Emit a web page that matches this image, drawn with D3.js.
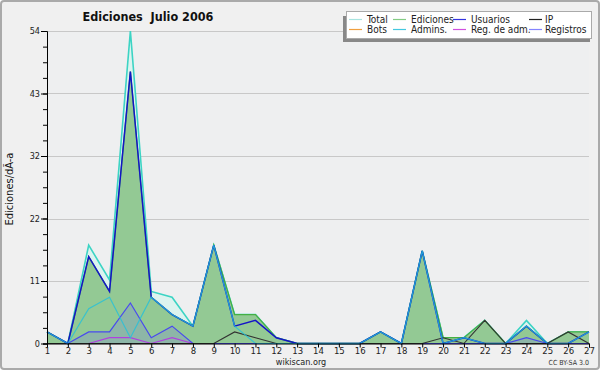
<!DOCTYPE html>
<html>
<head>
<meta charset="utf-8">
<script src="https://cdn.jsdelivr.net/npm/d3@7"></script>
<style>
  body { margin: 0; background: #fff; }
  svg { display: block; font-family: "DejaVu Sans Condensed", "DejaVu Sans", sans-serif; }
</style>
</head>
<body>
<svg id="chart" width="600" height="370"></svg>
<script>
const days = d3.range(1, 28);
const total     = [2,0,17,11,54,9,8,3,17,5,5,1,0,0,0,0,2,0,16,1,1,4,0,4,0,2,2];
const ediciones = [2,0,15,9,47,8,5,3,17,5,5,1,0,0,0,0,2,0,16,1,1,4,0,3,0,2,2];
const usuarios  = [2,0,15,9,47,8,5,3,17,3,4,1,0,0,0,0,2,0,16,0,1,0,0,3,0,0,2];
const ip        = [0,0,0,0,0,0,0,0,0,2,1,0,0,0,0,0,0,0,0,1,0,4,0,0,0,2,0];
const bots      = [0,0,0,0,0,0,0,0,0,0,0,0,0,0,0,0,0,0,0,0,0,0,0,0,0,0,0];
const admins    = [2,0,6,8,1,8,5,3,17,3,0,0,0,0,0,0,2,0,16,0,1,0,0,3,0,0,2];
const regAdm    = [0,0,0,1,1,0,1,0,0,0,0,0,0,0,0,0,0,0,0,0,0,0,0,0,0,0,0];
const registros = [0,0,2,2,7,1,3,0,0,0,0,0,0,0,0,0,0,0,0,0,0,0,0,1,0,0,0];

const legendItems = [
    ["Total", "#a8e4e0"], ["Ediciones", "#84cc84"], ["Usuarios", "#3434e0"], ["IP", "#222"],
    ["Bots", "#f0a040"], ["Admins.", "#44c8e0"], ["Reg. de adm.", "#d050e0"], ["Registros", "#8484ff"]
];

const svg = d3.select("#chart");
const plotLeft = 47, plotRight = 589, plotTop = 31, plotBottom = 343.5;

// fondo y borde
svg.append("rect").attr("x", 1).attr("y", 1).attr("width", 598).attr("height", 368)
    .attr("rx", 3).attr("fill", "#f0f0f0").attr("stroke", "#aaa").attr("stroke-width", 2);
svg.append("rect").attr("x", plotLeft).attr("y", plotTop).attr("width", plotRight - plotLeft).attr("height", plotBottom - plotTop)
    .attr("fill", "#eeeff0");

const x = d3.scaleLinear().domain([1, 27]).range([plotLeft, plotRight]);
const y = d3.scaleLinear().domain([0, 54]).range([plotBottom, plotTop]);

const minorTicks = d3.range(0, 21).map(i => i * 2.7);
const majorTicks = d3.range(0, 6).map(i => i * 10.8);

// rejilla
svg.append("g").selectAll("line").data(majorTicks.slice(1)).enter().append("line")
    .attr("x1", plotLeft).attr("x2", plotRight)
    .attr("y1", d => Math.round(y(d)) + 0.5).attr("y2", d => Math.round(y(d)) + 0.5)
    .attr("stroke", "#c8c8c8");

const area = d3.area().x((d, i) => x(days[i])).y0(y(0)).y1(d => y(d));
const line = d3.line().x((d, i) => x(days[i])).y(d => y(d));

svg.append("path").attr("d", area(total)).attr("fill", "#dcf3ef");
svg.append("path").attr("d", line(total)).attr("fill", "none").attr("stroke", "#3cd4c4").attr("stroke-width", 1.6);
svg.append("path").attr("d", area(ediciones)).attr("fill", "#93c994");
svg.append("path").attr("d", line(ediciones)).attr("fill", "none").attr("stroke", "#44b044").attr("stroke-width", 1.3);
svg.append("path").attr("d", area(registros)).attr("fill", "#7a80e0").attr("opacity", 0.25);

const lines = [
    [bots, "#f0a040", 1],
    [regAdm, "#b040e0", 1.2],
    [registros, "#4848f0", 1.2],
    [ip, "#333", 1.1],
    [usuarios, "#1414c8", 1.5],
    [admins, "#22c0dc", 1.2]
];
lines.forEach(([vals, col, w]) => {
    svg.append("path").attr("d", line(vals)).attr("fill", "none")
        .attr("stroke", col).attr("stroke-width", w).attr("opacity", col === "#22c0dc" ? 0.8 : 1);
});

// ejes
const axisY = svg.append("g").attr("transform", `translate(${plotLeft},0)`)
    .call(d3.axisLeft(y).tickValues(minorTicks).tickSize(4).tickFormat(""));
axisY.select(".domain").attr("stroke", "#000");
svg.append("g").attr("transform", `translate(${plotLeft},0)`)
    .call(d3.axisLeft(y).tickValues(majorTicks).tickSize(6).tickPadding(1).tickFormat(d => Math.round(d)))
    .call(g => g.select(".domain").remove())
    .call(g => g.selectAll("text").attr("font-size", 9).attr("fill", "#222")
        .attr("font-family", "DejaVu Sans Condensed"));

svg.append("g").attr("transform", `translate(0,${plotBottom})`)
    .call(d3.axisBottom(x).tickValues(days).tickSize(4).tickPadding(0).tickFormat(d => d))
    .call(g => g.select(".domain").attr("stroke", "#000"))
    .call(g => g.selectAll("text").attr("font-size", 9.5).attr("fill", "#222")
        .attr("font-family", "DejaVu Sans Condensed"));

// textos
svg.append("text").attr("x", 148).attr("y", 21).attr("text-anchor", "middle")
    .attr("font-size", 12.5).attr("font-weight", "bold").attr("fill", "#111")
    .attr("xml:space", "preserve").text("Ediciones  Julio 2006");
svg.append("text").attr("transform", "translate(13,189) rotate(-90)").attr("text-anchor", "middle")
    .attr("font-size", 11).attr("fill", "#111").text("Ediciones/dÃ-a");
svg.append("text").attr("x", 301).attr("y", 365).attr("text-anchor", "middle")
    .attr("font-size", 9).attr("fill", "#222").text("wikiscan.org");
svg.append("text").attr("x", 589).attr("y", 365).attr("text-anchor", "end")
    .attr("font-size", 7).attr("fill", "#333").text("CC BY-SA 3.0");

// leyenda
const lg = svg.append("g");
lg.append("rect").attr("x", 343).attr("y", 16).attr("width", 247).attr("height", 26).attr("fill", "#888");
lg.append("rect").attr("x", 346.5).attr("y", 11.5).attr("width", 245).attr("height", 27)
    .attr("fill", "#fff").attr("stroke", "#aaa");
const colX = [349, 393, 453, 529];
legendItems.forEach(([name, col], i) => {
    const cx = colX[i % 4], cy = i < 4 ? 19.5 : 29.5;
    lg.append("line").attr("x1", cx).attr("x2", cx + 13).attr("y1", cy).attr("y2", cy)
        .attr("stroke", col).attr("stroke-width", 1.2);
    lg.append("text").attr("x", cx + (i % 4 === 3 ? 16 : 18)).attr("y", cy + 3.5)
        .attr("font-size", 10).attr("fill", "#222").text(name);
});
</script>
</body>
</html>
